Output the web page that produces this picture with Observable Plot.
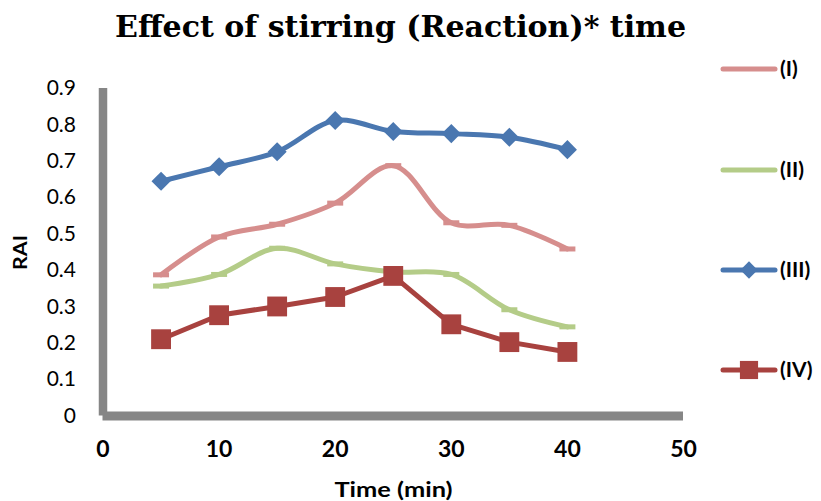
<!DOCTYPE html>
<html><head><meta charset="utf-8">
<script src="https://cdn.jsdelivr.net/npm/d3@7"></script>
<script src="https://cdn.jsdelivr.net/npm/@observablehq/plot@0.6"></script>
<style>
body{margin:0;background:#fff}
#chart{position:relative;width:821px;height:501px;overflow:hidden}
</style>
</head><body><div id="chart"></div>
<script>
// ---- data ----
const times = [5, 10, 15, 20, 25, 30, 35, 40];
const seriesI   = [0.388, 0.492, 0.527, 0.585, 0.688, 0.531, 0.524, 0.459];
const seriesII  = [0.357, 0.389, 0.461, 0.418, 0.396, 0.389, 0.292, 0.245];
const seriesIII = [0.645, 0.685, 0.726, 0.812, 0.782, 0.776, 0.766, 0.732];
const seriesIV  = [0.211, 0.277, 0.301, 0.327, 0.385, 0.252, 0.203, 0.176];
const seriesNames = ["(I)", "(II)", "(III)", "(IV)"];
const xTicks = [0, 10, 20, 30, 40, 50];
const yTicks = [0, 0.1, 0.2, 0.3, 0.4, 0.5, 0.6, 0.7, 0.8, 0.9];
const yTickLabels = ["0", "0.1", "0.2", "0.3", "0.4", "0.5", "0.6", "0.7", "0.8", "0.9"];
const titleText = "Effect of stirring (Reaction)* time";
const xLabel = "Time (min)";
const yLabel = "RAI";

// ---- styles ----
const colors = ["#d68e8d", "#b4cc88", "#4a77b0", "#a8423f"];
const axisGray = "#868686";
const sans = "Lato, 'Open Sans', sans-serif";

const allValues = [seriesI, seriesII, seriesIII, seriesIV];
const rows = allValues.map((vals, i) => times.map((t, j) => ({series: seriesNames[i], time: t, rai: vals[j]})));

const dashSymbol = {draw(ctx, size) { ctx.rect(-8, -2.5, 16, 5); }};

const plot = Plot.plot({
  width: 821,
  height: 501,
  x: {domain: [0, 50], range: [102.5, 683], axis: null},
  y: {domain: [0, 0.9], range: [415.5, 88], axis: null},
  marks: [
    Plot.ruleX([0], {y1: 0, y2: 0.9, stroke: axisGray, strokeWidth: 8.5}),
    Plot.ruleY([0], {x1: 0, x2: 50, stroke: axisGray, strokeWidth: 9}),
    Plot.text(yTicks, {x: 0, y: d => d, text: (d, i) => yTickLabels[i], textAnchor: "end", dx: -27, fontSize: 21, fontFamily: sans, fill: "#000"}),
    Plot.text(xTicks, {x: d => d, y: 0, text: d => String(d), dy: 34, fontSize: 23, fontWeight: "bold", fontFamily: sans, fill: "#000"}),
    // I and II: smoothed with dash markers
    Plot.line(rows[0], {x: "time", y: "rai", stroke: colors[0], strokeWidth: 5, curve: "catmull-rom"}),
    Plot.dot(rows[0], {x: "time", y: "rai", fill: colors[0], symbol: dashSymbol, r: 5}),
    Plot.line(rows[1], {x: "time", y: "rai", stroke: colors[1], strokeWidth: 5, curve: "catmull-rom"}),
    Plot.dot(rows[1], {x: "time", y: "rai", fill: colors[1], symbol: dashSymbol, r: 5}),
    // III: diamonds
    Plot.line(rows[2], {x: "time", y: "rai", stroke: colors[2], strokeWidth: 5, curve: "catmull-rom", strokeLinejoin: "round"}),
    Plot.dot(rows[2], {x: "time", y: "rai", fill: colors[2], symbol: "diamond2", r: 8.6}),
    // IV: squares
    Plot.line(rows[3], {x: "time", y: "rai", stroke: colors[3], strokeWidth: 5, strokeLinejoin: "round"}),
    Plot.dot(rows[3], {x: "time", y: "rai", fill: colors[3], symbol: "square", r: 11.2})
  ]
});
plot.style.position = "absolute";
plot.style.left = "0px";
plot.style.top = "0px";
document.getElementById("chart").appendChild(plot);

const svg = d3.select(plot);
// title
svg.append("text").attr("x", 400.5).attr("y", 37).attr("text-anchor", "middle")
  .attr("font-family", "'DejaVu Serif', serif").attr("font-weight", "bold").attr("font-size", 29)
  .attr("textLength", 571).attr("lengthAdjust", "spacingAndGlyphs")
  .attr("fill", "#000").text(titleText);
// axis labels
svg.append("text").attr("x", 393.5).attr("y", 497).attr("text-anchor", "middle")
  .attr("font-family", sans).attr("font-weight", "bold").attr("font-size", 21)
  .attr("textLength", 118).attr("lengthAdjust", "spacingAndGlyphs")
  .attr("fill", "#000").text(xLabel);
svg.append("text").attr("transform", "translate(26.5,252.5) rotate(-90)").attr("text-anchor", "middle")
  .attr("font-family", sans).attr("font-weight", "bold").attr("font-size", 19)
  .attr("textLength", 35).attr("lengthAdjust", "spacingAndGlyphs")
  .attr("fill", "#000").text(yLabel);

// legend
const legendY = [69, 170, 270, 370];
const legendSymbols = [null, null, d3.symbolDiamond2, d3.symbolSquare];
const legendSizes = [0, 0, 190, 330];
seriesNames.forEach((name, i) => {
  const g = svg.append("g").attr("transform", `translate(0,${legendY[i]})`);
  g.append("line").attr("x1", 723).attr("x2", 775).attr("y1", 0).attr("y2", 0)
    .attr("stroke", colors[i]).attr("stroke-width", 5).attr("stroke-linecap", "round");
  if (legendSymbols[i]) {
    g.append("path").attr("transform", "translate(749,0)")
      .attr("d", d3.symbol(legendSymbols[i], legendSizes[i])()).attr("fill", colors[i]);
  }
  g.append("text").attr("x", 780).attr("y", 0).attr("dy", "0.35em").attr("text-anchor", "start")
    .attr("font-family", sans).attr("font-weight", "bold").attr("font-size", 21).attr("fill", "#000").text(name);
});
</script>
</body></html>
